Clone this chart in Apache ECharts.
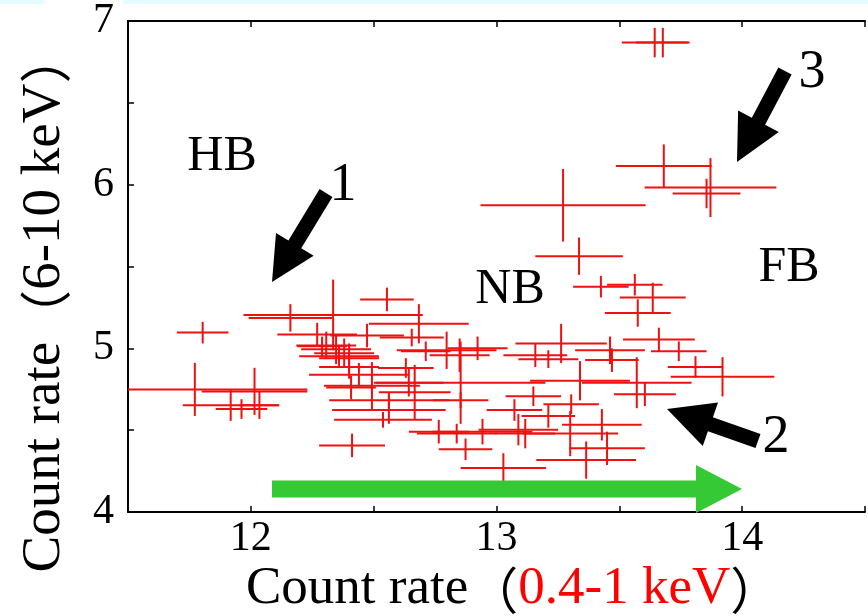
<!DOCTYPE html>
<html><head><meta charset="utf-8">
<script src="https://cdn.jsdelivr.net/npm/echarts/dist/echarts.min.js"></script>
<style>html,body{margin:0;padding:0;background:#fff}#c{width:868px;height:616px}</style>
</head><body><div id="c"></div>
<script>
// Count rate 0.4-1 keV (x) and 6-10 keV (y), with half-width error bars
const xVal = [13.644,13.677,13.271,13.681,13.871,13.855,13.336,13.425,13.563,13.636,13.575,13.661,13.742,13.81,13.92,13.462,13.47,13.571,13.604,13.263,13.34,13.15,13.073,13.158,13.211,12.854,12.854,13.304,13.211,13.089,13.117,13.3,13.365,13.45,13.429,13.028,12.874,12.838,12.765,12.943,12.554,12.161,12.335,12.684,12.27,12.473,12.655,12.307,12.29,12.347,12.38,12.4,12.359,12.4,12.44,12.408,12.493,12.562,12.562,12.538,12.643,12.667,12.631,12.712,12.797,12.923,12.85,12.412,11.804,11.772,12.015,11.918,11.962,12.035];
const yVal = [6.868,6.868,5.874,6.114,5.982,5.946,5.563,5.377,5.389,5.311,5.216,5.054,4.982,4.886,4.826,4.988,4.928,4.79,4.719,5.03,4.802,4.707,4.623,4.958,4.934,4.79,4.683,4.659,4.587,4.503,4.479,4.479,4.317,4.389,4.533,4.269,4.383,4.479,4.491,4.491,5.299,5.186,5.204,5.15,5.084,5.078,5.066,5.018,5.012,4.994,4.97,4.94,4.952,4.886,4.838,4.76,4.772,4.623,4.683,4.563,4.79,4.731,4.88,4.982,4.988,5.0,4.958,4.407,5.096,4.749,4.737,4.653,4.629,4.653];
const xErr = [0.134,0.109,0.336,0.195,0.268,0.138,0.178,0.113,0.113,0.134,0.134,0.146,0.113,0.113,0.211,0.142,0.109,0.223,0.126,0.186,0.203,0.113,0.113,0.13,0.122,0.345,0.113,0.113,0.109,0.162,0.122,0.195,0.203,0.154,0.162,0.174,0.109,0.162,0.122,0.203,0.109,0.17,0.365,0.203,0.162,0.15,0.13,0.122,0.101,0.142,0.122,0.122,0.162,0.122,0.203,0.101,0.195,0.231,0.243,0.199,0.142,0.146,0.113,0.101,0.203,0.122,0.122,0.134,0.105,0.458,0.215,0.195,0.105,0.081];
const yErr = [0.09,0.09,0.222,0.132,0.18,0.09,0.114,0.066,0.066,0.09,0.084,0.072,0.06,0.066,0.12,0.084,0.072,0.156,0.072,0.12,0.12,0.06,0.066,0.072,0.054,0.251,0.048,0.06,0.072,0.096,0.09,0.138,0.114,0.102,0.096,0.09,0.066,0.06,0.072,0.078,0.072,0.084,0.216,0.12,0.072,0.072,0.054,0.084,0.06,0.09,0.09,0.09,0.06,0.072,0.072,0.072,0.144,0.084,0.048,0.048,0.084,0.168,0.06,0.06,0.114,0.072,0.102,0.072,0.066,0.162,0.144,0.096,0.06,0.084];
const xLabels = [12, 13, 14];
const yLabels = [4, 5, 6, 7];
const xTitle = 'Count rate';
const xTitleRed = '0.4-1 keV';
const yTitle = 'Count rate';
const yTitleRed = '6-10 keV';
const branchLabels = [['HB', 222, 157], ['NB', 510, 290], ['FB', 789, 268]];
const arrowLabels = [['1', 343, 186], ['2', 776, 438], ['3', 812, 73]];

const data = xVal.map((x, i) => [x, yVal[i], xErr[i], yErr[i]]);
const chart = echarts.init(document.getElementById('c'), null, {renderer: 'canvas'});
const SERIF = '"Liberation Serif","Times New Roman",serif';
const RED = '#ee1111';

function arrowPoly(x0, y0, x1, y1, sw, hl, hw) {
  const dx = x1 - x0, dy = y1 - y0, L = Math.hypot(dx, dy);
  const ux = dx / L, uy = dy / L, nx = -uy, ny = ux;
  const bx = x1 - ux * hl, by = y1 - uy * hl;
  return [
    [x0 + nx * sw, y0 + ny * sw], [bx + nx * sw, by + ny * sw], [bx + nx * hw, by + ny * hw],
    [x1, y1], [bx - nx * hw, by - ny * hw], [bx - nx * sw, by - ny * sw], [x0 - nx * sw, y0 - ny * sw]
  ];
}
const isLab = (v, arr) => arr.some(a => Math.abs(a - v) < 1e-6);

const graphics = [
  {type: 'rect', shape: {x: 0, y: 0, width: 45, height: 4}, style: {fill: '#e4fbff'}, z: 100},
  {type: 'rect', shape: {x: 123, y: 0, width: 745, height: 4}, style: {fill: '#e4fbff'}, z: 100},
  {type: 'polygon', shape: {points: arrowPoly(272, 489, 742, 489, 8.5, 46, 24)}, style: {fill: '#35c935'}, z: 100},
  {type: 'polygon', shape: {points: arrowPoly(326, 193, 272, 282, 7.5, 44, 22)}, style: {fill: '#000'}, z: 100},
  {type: 'polygon', shape: {points: arrowPoly(758, 441, 667, 409, 7.5, 46, 23)}, style: {fill: '#000'}, z: 100},
  {type: 'polygon', shape: {points: arrowPoly(785, 71, 737, 162, 7.5, 46, 23)}, style: {fill: '#000'}, z: 100},
  {type: 'text', left: 246, top: 563, style: {
    text: '{b|' + xTitle + '}{p|（}{r|' + xTitleRed + '}{p|）}',
    rich: {
      b: {fontFamily: SERIF, fontSize: 53, fill: '#000'},
      r: {fontFamily: SERIF, fontSize: 53, fill: '#ff0000'},
      p: {fontFamily: '"Noto Sans CJK JP"', fontSize: 50, fill: '#000'}
    }}, z: 100},
  {type: 'text', x: 45, y: 302, rotation: Math.PI / 2, style: {
    text: '{b|' + yTitle + '}{p|（}{r|' + yTitleRed + '}{p|）}',
    align: 'center', verticalAlign: 'middle',
    rich: {
      b: {fontFamily: SERIF, fontSize: 55, fill: '#000'},
      r: {fontFamily: SERIF, fontSize: 55, fill: '#000'},
      p: {fontFamily: '"Noto Sans CJK JP"', fontSize: 52, fill: '#000'}
    }}, z: 100}
];
branchLabels.concat(arrowLabels).forEach(([t, x, y]) => {
  graphics.push({type: 'text', x: x, y: y, style: {text: t, fontFamily: SERIF, fontSize: t.length > 1 ? 50 : 54,
    fill: '#000', align: 'center', verticalAlign: 'middle'}, z: 100});
});

chart.setOption({
  animation: false,
  backgroundColor: '#fff',
  grid: {left: 128, top: 11, right: 0, bottom: 104, containLabel: false},
  xAxis: [{
    type: 'value', min: 11.5, max: 14.5, interval: 0.5, position: 'bottom',
    axisLine: {show: true, onZero: false, lineStyle: {color: '#000', width: 2}},
    axisTick: {show: true, inside: true, length: 6, lineStyle: {color: '#000', width: 1.5}},
    axisLabel: {fontFamily: SERIF, fontSize: 42, color: '#000', margin: 6,
      formatter: v => isLab(v, xLabels) ? String(Math.round(v)) : ''},
    splitLine: {show: false}
  }, {
    type: 'value', min: 11.5, max: 14.5, interval: 0.5, position: 'top',
    axisLine: {show: true, onZero: false, lineStyle: {color: '#000', width: 2}},
    axisTick: {show: true, inside: true, length: 6, lineStyle: {color: '#000', width: 1.5}},
    axisLabel: {show: false}, splitLine: {show: false}
  }],
  yAxis: [{
    type: 'value', min: 4, max: 7, interval: 0.5,
    axisLine: {show: true, onZero: false, lineStyle: {color: '#000', width: 2}},
    axisTick: {show: true, inside: true, length: 6, lineStyle: {color: '#000', width: 1.5}},
    axisLabel: {fontFamily: SERIF, fontSize: 42, color: '#000', margin: 14,
      formatter: v => isLab(v, yLabels) ? String(Math.round(v)) : ''},
    splitLine: {show: false}
  }],
  series: [{
    type: 'custom', xAxisIndex: 0, yAxisIndex: 0, data: data, clip: true,
    renderItem: function (params, api) {
      const x = api.value(0), y = api.value(1), ex = api.value(2), ey = api.value(3);
      const l = api.coord([x - ex, y]), r = api.coord([x + ex, y]);
      const t = api.coord([x, y + ey]), b = api.coord([x, y - ey]);
      const cs = params.coordSys;
      const cx = v => Math.max(cs.x, Math.min(cs.x + cs.width, v));
      const st = {stroke: RED, lineWidth: 2};
      return {type: 'group', children: [
        {type: 'line', shape: {x1: cx(l[0]), y1: l[1], x2: cx(r[0]), y2: r[1]}, style: st},
        {type: 'line', shape: {x1: t[0], y1: t[1], x2: b[0], y2: b[1]}, style: st}
      ]};
    }
  }],
  graphic: graphics
});
</script>
</body></html>
